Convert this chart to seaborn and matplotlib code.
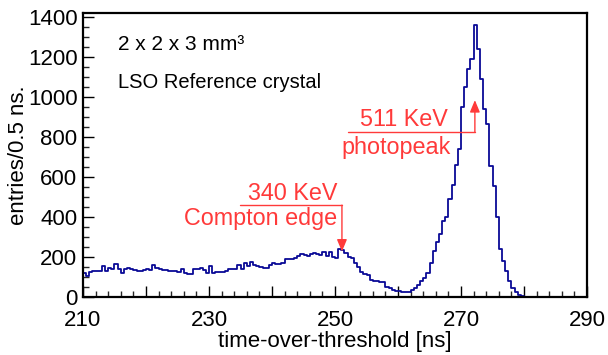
import numpy as np
import pandas as pd
import matplotlib
matplotlib.use("Agg")
import matplotlib.pyplot as plt
import seaborn as sns
from matplotlib.ticker import MultipleLocator, FixedLocator

# ---- data (entries per 0.5 ns bin, from 210 ns to 290 ns) ----
t_start = 210.0
t_stop = 290.0
bin_width = 0.5
counts = [
    120, 105, 125, 130, 132, 130, 155, 132, 145, 140,   # 210.0 - 214.5
    165, 140, 122, 140, 145, 140, 138, 130, 133, 135,   # 215.0 - 219.5
    140, 135, 160, 148, 140, 137, 135, 132, 132, 130,   # 220.0 - 224.5
    128, 140, 123, 118, 118, 140, 140, 148, 137, 123,   # 225.0 - 229.5
    157, 123, 128, 127, 128, 130, 140, 143, 143, 160,   # 230.0 - 234.5
    143, 173, 157, 175, 160, 155, 152, 145, 148, 160,   # 235.0 - 239.5
    170, 168, 165, 172, 193, 192, 190, 198, 205, 215,   # 240.0 - 244.5
    212, 208, 218, 220, 218, 212, 227, 207, 227, 200,   # 245.0 - 249.5
    198, 243, 238, 222, 200, 195, 170, 150, 128, 118,   # 250.0 - 254.5
    113, 85, 82, 80, 78, 75, 50, 45, 35, 32,            # 255.0 - 259.5
    30, 28, 25, 27, 35, 45, 60, 80, 95, 120,            # 260.0 - 264.5
    170, 230, 275, 315, 380, 400, 490, 560, 660, 740,   # 265.0 - 269.5
    950, 1050, 1140, 1190, 1360, 1240, 1090, 940, 865, 655,  # 270.0 - 274.5
    555, 400, 240, 180, 130, 80, 45, 27, 10, 4,         # 275.0 - 279.5
    2, 1, 2, 1, 1, 0, 0, 0, 0, 0,                       # 280.0 - 284.5
    0, 0, 0, 0, 0, 0, 0, 0, 0, 0,                       # 285.0 - 289.5
]
x_ticks_labeled = [210, 230, 250, 270, 290]
y_ticks = [0, 200, 400, 600, 800, 1000, 1200, 1400]

edges = np.arange(t_start, t_stop + bin_width / 2, bin_width)
centers = edges[:-1] + bin_width / 2
df = pd.DataFrame({"t": centers, "entries": counts})

sns.set_theme(style="ticks")
plt.rcParams["font.family"] = ["Liberation Sans", "DejaVu Sans"]
plt.rcParams["text.color"] = "black"
plt.rcParams["axes.labelcolor"] = "black"

fig = plt.figure(figsize=(6.08, 3.55), dpi=100)
ax = fig.add_axes([0.1365, 0.163, 0.829, 0.8])

sns.histplot(data=df, x="t", weights="entries", bins=list(edges), element="step",
             fill=False, color="#0a0a96", linewidth=1.3, ax=ax)

ax.set_xlim(t_start, t_stop)
ax.set_ylim(0, 1420)

major_x = np.arange(210, 291, 10)
ax.set_xticks(major_x)
ax.set_xticklabels([str(v) if v in x_ticks_labeled else "" for v in major_x])
ax.xaxis.set_minor_locator(MultipleLocator(2))
ax.yaxis.set_major_locator(FixedLocator(y_ticks))
ax.yaxis.set_minor_locator(MultipleLocator(50))

ax.tick_params(axis="both", which="major", direction="in", length=8, width=1.0,
               labelsize=16, colors="black", top=False, right=False)
ax.tick_params(axis="both", which="minor", direction="in", length=4, width=1.0,
               top=False, right=False)
ax.tick_params(axis="x", which="major", pad=9)
ax.tick_params(axis="y", which="major", pad=4)

for s in ax.spines.values():
    s.set_visible(True)
    s.set_linewidth(1.6)
    s.set_color("black")

ax.set_xlabel("time-over-threshold [ns]", fontsize=16, labelpad=0)
ax.set_ylabel("entries/0.5 ns.", fontsize=16, labelpad=-1)

# text annotations
ax.text(215.5, 1262, "2 x 2 x 3 mm\u00b3", fontsize=15, ha="left", va="center",
        color="black")
ax.text(215.5, 1072, "LSO Reference crystal", fontsize=14.5, ha="left", va="center",
        color="black")

red = "#ff3a3a"
tsize = 16.8
# Compton edge
ax.text(250.4, 518, "340 KeV", fontsize=tsize, color=red, ha="right", va="center")
ax.text(250.4, 392, "Compton edge", fontsize=tsize, color=red, ha="right", va="center")
ax.plot([234.9, 251.1], [460, 460], color=red, lw=1.0)
ax.annotate("", xy=(251.1, 228), xytext=(251.1, 460),
            arrowprops=dict(arrowstyle="-|>,head_length=0.6,head_width=0.25",
                            color=red, lw=1.0, shrinkA=0, shrinkB=0))
# photopeak
ax.text(267.9, 890, "511 KeV", fontsize=tsize, color=red, ha="right", va="center")
ax.text(268.3, 748, "photopeak", fontsize=tsize, color=red, ha="right", va="center")
ax.plot([252.1, 272.2], [825, 825], color=red, lw=1.0)
ax.annotate("", xy=(272.2, 985), xytext=(272.2, 825),
            arrowprops=dict(arrowstyle="-|>,head_length=0.6,head_width=0.25",
                            color=red, lw=1.0, shrinkA=0, shrinkB=0))

fig.savefig("out.png", dpi=100)
